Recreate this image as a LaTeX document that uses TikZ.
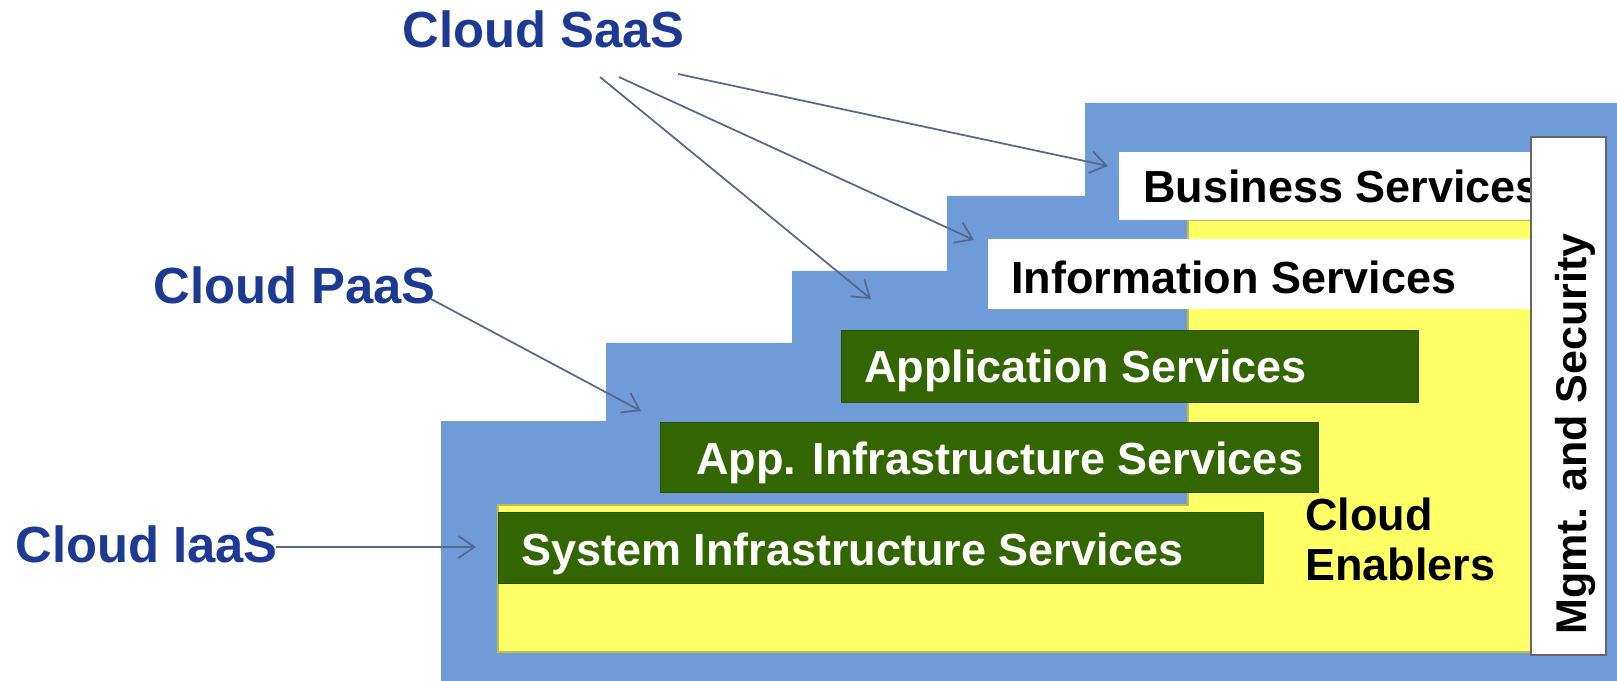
\documentclass[tikz,border=0pt]{standalone}
\usepackage{fontspec}
\setmainfont{Liberation Sans}
\usetikzlibrary{arrows.meta}
\definecolor{stairblue}{HTML}{6F9BD9}
\definecolor{layergreen}{HTML}{336600}
\definecolor{enableryellow}{HTML}{FFFF66}
\definecolor{labelblue}{HTML}{1C3A94}
\definecolor{arrowgray}{HTML}{56698A}

\begin{document}
\begin{tikzpicture}[x=0.2mm, y=-0.2mm,
    lbl/.style={anchor=base west, inner sep=0, text=labelblue, font=\fontsize{28.9}{30}\selectfont\bfseries},
    layer/.style={anchor=base west, inner sep=0, font=\fontsize{25.6}{27}\selectfont\bfseries},
    ptr/.style={draw=arrowgray, line width=1pt, -{Straight Barb[length=3.2mm, width=4.4mm]}}]
        \useasboundingbox (0,0) rectangle (1617,681);

        % schody
        \fill[stairblue] (441,681) -- (441,421) -- (606,421) -- (606,343) -- (792,343)
            -- (792,271) -- (947,271) -- (947,196) -- (1085,196) -- (1085,103)
            -- (1617,103) -- (1617,681) -- cycle;
        \filldraw[fill=enableryellow, draw=enableryellow!75!black, line width=0.6pt]
            (498,505) -- (1188,505) -- (1188,220) -- (1531,220) -- (1531,652) -- (498,652) -- cycle;

        % vrstvy
        \fill[white] (1119,152) rectangle (1531,220);
        \fill[white] (988,239) rectangle (1531,309);
        \filldraw[fill=layergreen, draw=layergreen!80!black] (841,330) rectangle (1418,402);
        \filldraw[fill=layergreen, draw=layergreen!80!black] (660,422) rectangle (1318,492);
        \filldraw[fill=layergreen, draw=layergreen!80!black] (498,512) rectangle (1263,583);

        \node[layer] (bus) at (1143,203) {Business Services};
        \node[layer] (info) at (1011,294) {Information Services};
        \node[layer, text=white] (apps) at (864,383) {Application Services};
        \node[layer, text=white] (appinfra) at (696,474) {App. Infrastructure Services};
        \node[layer, text=white] (sysinfra) at (521,565) {System Infrastructure Services};
        \node[layer] (enab1) at (1305,530) {Cloud};
        \node[layer] (enab2) at (1305,580) {Enablers};

        % bezpecnost
        \filldraw[fill=white, draw=black!60, line width=1.4pt] (1531,137) rectangle (1606,655);
        \node[rotate=90, inner sep=0, font=\fontsize{24.5}{26}\selectfont\bfseries] (mgmt)
            at (1575,434) {Mgmt. and Security};

        % popisky
        \node[lbl] (saas) at (402,48) {Cloud SaaS};
        \node[lbl] (paas) at (153,304) {Cloud PaaS};
        \node[lbl] (iaas) at (15,562) {Cloud IaaS};

        % sipky
        \coordinate (s1) at (600,77);
        \coordinate (s2) at (619,77);
        \coordinate (s3) at (678,74);
        \coordinate (t1) at (871,299);
        \coordinate (t2) at (974,240);
        \coordinate (t3) at (1108,166);
        \coordinate (p1) at (431,299);
        \coordinate (tp) at (641,411);
        \coordinate (i1) at (276,547);
        \coordinate (ti) at (476,547);
        \draw[ptr] (s1) -- (t1);
        \draw[ptr] (s2) -- (t2);
        \draw[ptr] (s3) -- (t3);
        \draw[ptr] (p1) -- (tp);
        \draw[ptr] (i1) -- (ti);
    \end{tikzpicture}
\end{document}
